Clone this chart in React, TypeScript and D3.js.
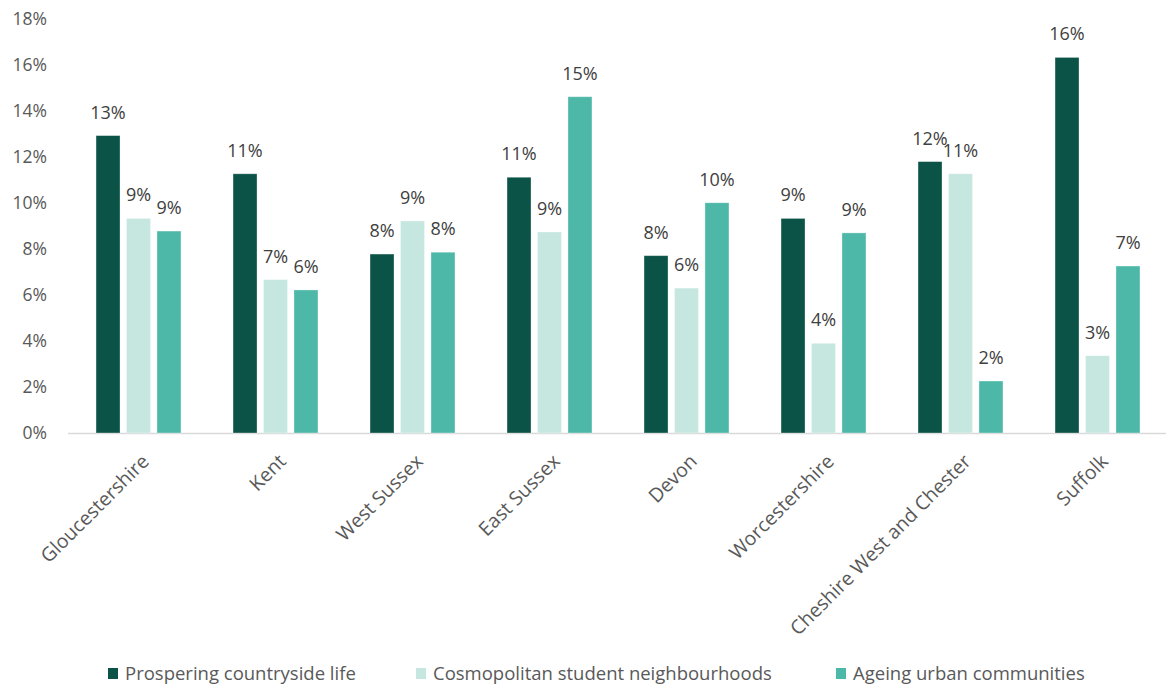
import * as d3 from 'd3'
import { useEffect, useRef } from 'react'

const categories = ['Gloucestershire', 'Kent', 'West Sussex', 'East Sussex', 'Devon', 'Worcestershire', 'Cheshire West and Chester', 'Suffolk']
const seriesNames = ['Prospering countryside life', 'Cosmopolitan student neighbourhoods', 'Ageing urban communities']
const prospering = [12.93, 11.27, 7.78, 11.12, 7.71, 9.33, 11.8, 16.33]
const cosmopolitan = [9.33, 6.67, 9.22, 8.74, 6.3, 3.9, 11.27, 3.36]
const ageing = [8.78, 6.22, 7.86, 14.62, 10.01, 8.7, 2.26, 7.26]
const yTicks = [0, 2, 4, 6, 8, 10, 12, 14, 16, 18]
const colors = ['#0b5347', '#c5e7e0', '#4db8a8']

const W = 1168
const H = 691
const font = '"Open Sans", sans-serif'

export default function App() {
  const svgRef = useRef(null) as any

  useEffect(() => {
    const svg = d3.select(svgRef.current)
    svg.selectAll('*').remove()

    const values = [prospering, cosmopolitan, ageing]

    const y = d3.scaleLinear().domain([0, 18]).range([433, 19])
    const x0 = d3.scaleBand()
      .domain(categories)
      .range([70, 1166])
      .paddingInner(0.38)
      .paddingOuter(0.19)
    const x1 = d3.scaleBand()
      .domain(seriesNames)
      .range([0, x0.bandwidth()])
      .paddingInner(0.213)

    // y tick labels
    svg.append('g')
      .selectAll('text')
      .data(yTicks)
      .enter().append('text')
      .attr('x', 47)
      .attr('y', d => y(d))
      .attr('dy', '0.35em')
      .attr('text-anchor', 'end')
      .attr('fill', '#595959')
      .style('font-family', font)
      .style('font-size', '17.5px')
      .text(d => d + '%')

    // axis line
    svg.append('line')
      .attr('x1', 68).attr('x2', 1166)
      .attr('y1', y(0) + 0.5).attr('y2', y(0) + 0.5)
      .attr('stroke', '#d9d9d9')
      .attr('stroke-width', 1.5)

    // bars
    const rows: any[] = []
    categories.forEach((c, i) => {
      seriesNames.forEach((s, j) => {
        rows.push({ cat: c, ser: s, val: values[j][i], j })
      })
    })

    const g = svg.append('g')
    g.selectAll('rect')
      .data(rows)
      .enter().append('rect')
      .attr('x', d => (x0(d.cat) as number) + (x1(d.ser) as number))
      .attr('y', d => y(d.val))
      .attr('width', x1.bandwidth())
      .attr('height', d => y(0) - y(d.val))
      .attr('fill', d => colors[d.j])
      .attr('stroke', '#ffffff')
      .attr('stroke-opacity', 0.4)
      .attr('stroke-width', 0.8)

    g.selectAll('text')
      .data(rows)
      .enter().append('text')
      .attr('x', d => (x0(d.cat) as number) + (x1(d.ser) as number) + x1.bandwidth() / 2)
      .attr('y', d => y(d.val) - 17)
      .attr('text-anchor', 'middle')
      .attr('fill', '#404040')
      .style('font-family', font)
      .style('font-size', '18px')
      .text(d => Math.round(d.val) + '%')

    // category labels
    svg.append('g')
      .selectAll('text')
      .data(categories)
      .enter().append('text')
      .attr('transform', d => `translate(${(x0(d) as number) + x0.bandwidth() / 2 + 2},${y(0) + 20}) rotate(-45)`)
      .attr('text-anchor', 'end')
      .attr('dy', '0.7em')
      .attr('fill', '#595959')
      .style('font-family', font)
      .style('font-size', '19.5px')
      .text(d => d)

    // legend
    const legendX = [108, 416, 836]
    const lg = svg.append('g')
    seriesNames.forEach((s, j) => {
      lg.append('rect')
        .attr('x', legendX[j]).attr('y', 668)
        .attr('width', 10).attr('height', 11)
        .attr('fill', colors[j])
      lg.append('text')
        .attr('x', legendX[j] + 17).attr('y', 674)
        .attr('dy', '0.35em')
        .attr('fill', '#595959')
        .style('font-family', font)
        .style('font-size', '18.5px')
        .text(s)
    })
  }, [])

  return (
    <svg ref={svgRef} width={W} height={H}
      style={{ position: 'absolute', left: 0, top: 0, background: '#ffffff' }} />
  )
}
